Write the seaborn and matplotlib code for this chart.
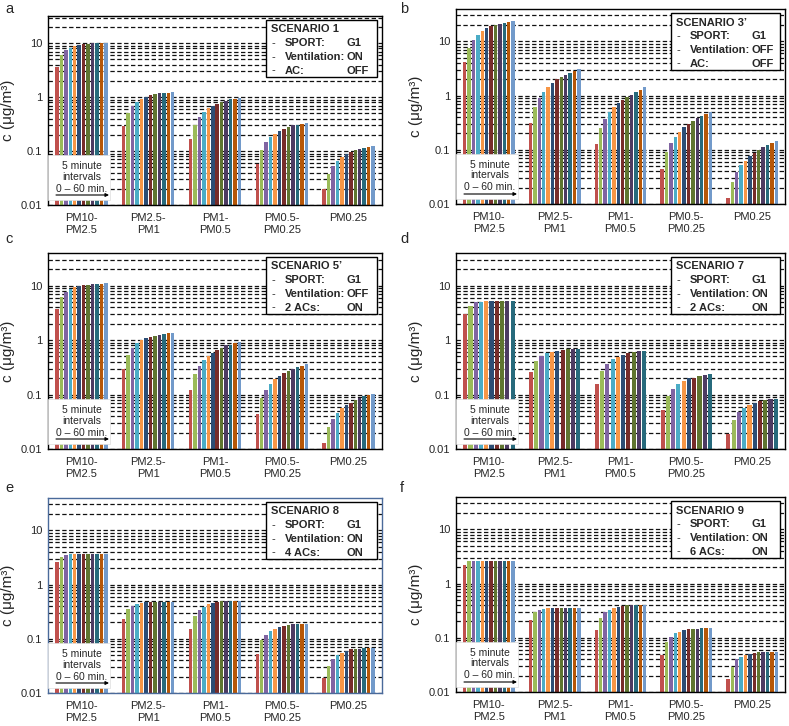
import numpy as np
import pandas as pd
import matplotlib
matplotlib.use("Agg")
import matplotlib.pyplot as plt
import seaborn as sns
from matplotlib.patches import Rectangle
from matplotlib.ticker import FixedLocator, NullFormatter, FixedFormatter, LogLocator

# ---------------- data ----------------
categories = ["PM10-\nPM2.5", "PM2.5-\nPM1", "PM1-\nPM0.5", "PM0.5-\nPM0.25", "PM0.25"]
intervals = ["0-5", "5-10", "10-15", "15-20", "20-25", "25-30",
             "30-35", "35-40", "40-45", "45-50", "50-55", "55-60"]
colors = ["#C0504D", "#9BBB59", "#8064A2", "#4BACC6", "#F79646", "#2C4D75",
          "#772C2A", "#5F7530", "#4D3B62", "#276A7C", "#B65708", "#729ACA"]

scen1 = [[3.6, 6.0, 7.4, 8.3, 9.0, 9.2, 9.8, 9.8, 9.9, 10.2, 10.0, 10.2],
         [0.29, 0.51, 0.70, 0.81, 0.94, 1.01, 1.09, 1.14, 1.17, 1.20, 1.20, 1.25],
         [0.164, 0.30, 0.43, 0.53, 0.62, 0.70, 0.75, 0.81, 0.86, 0.93, 0.93, 0.96],
         [0.058, 0.104, 0.147, 0.18, 0.21, 0.235, 0.26, 0.28, 0.30, 0.31, 0.32, 0.335],
         [0.020, 0.038, 0.053, 0.066, 0.079, 0.087, 0.096, 0.103, 0.107, 0.114, 0.117, 0.122]]
scen3 = [[4.2, 7.6, 10.6, 13.1, 15.5, 17.5, 18.8, 20.1, 21.3, 22.0, 22.6, 23.9],
         [0.31, 0.62, 0.90, 1.15, 1.43, 1.70, 1.99, 2.2, 2.43, 2.64, 2.84, 3.05],
         [0.126, 0.25, 0.37, 0.49, 0.61, 0.72, 0.84, 0.93, 1.04, 1.15, 1.28, 1.41],
         [0.045, 0.091, 0.131, 0.175, 0.217, 0.265, 0.305, 0.34, 0.39, 0.42, 0.46, 0.49],
         [0.013, 0.026, 0.039, 0.052, 0.063, 0.078, 0.088, 0.099, 0.112, 0.124, 0.136, 0.147]]
scen5 = [[3.7, 6.1, 7.7, 8.7, 9.4, 9.8, 10.1, 10.4, 10.6, 10.7, 10.6, 11.0],
         [0.29, 0.53, 0.70, 0.87, 1.0, 1.07, 1.15, 1.2, 1.25, 1.29, 1.33, 1.36],
         [0.12, 0.233, 0.337, 0.43, 0.51, 0.585, 0.655, 0.72, 0.80, 0.81, 0.89, 0.92],
         [0.0435, 0.087, 0.123, 0.155, 0.19, 0.22, 0.243, 0.27, 0.30, 0.32, 0.33, 0.356],
         [0.0129, 0.025, 0.036, 0.046, 0.057, 0.064, 0.071, 0.079, 0.087, 0.093, 0.10, 0.104]]
scen7 = [[3.0, 4.2, 4.9, 5.0, 5.1, 5.1, 5.1, 5.1, 5.1, 5.1],
         [0.254, 0.41, 0.51, 0.57, 0.61, 0.63, 0.65, 0.68, 0.68, 0.68],
         [0.153, 0.27, 0.36, 0.45, 0.49, 0.54, 0.58, 0.59, 0.62, 0.63],
         [0.053, 0.095, 0.125, 0.155, 0.176, 0.197, 0.205, 0.22, 0.227, 0.233],
         [0.019, 0.034, 0.047, 0.057, 0.064, 0.07, 0.075, 0.079, 0.081, 0.083]]
scen8 = [[2.56, 3.25, 3.5, 3.6, 3.6, 3.6, 3.6, 3.6, 3.6, 3.6, 3.6, 3.6],
         [0.235, 0.36, 0.41, 0.445, 0.465, 0.48, 0.48, 0.48, 0.48, 0.48, 0.48, 0.48],
         [0.149, 0.26, 0.335, 0.386, 0.43, 0.46, 0.48, 0.50, 0.50, 0.50, 0.50, 0.50],
         [0.053, 0.093, 0.118, 0.14, 0.153, 0.165, 0.172, 0.177, 0.184, 0.184, 0.187, 0.187],
         [0.0187, 0.032, 0.043, 0.05, 0.055, 0.06, 0.064, 0.065, 0.066, 0.068, 0.069, 0.069]]
scen9 = [[2.18, 2.63, 2.65, 2.65, 2.65, 2.65, 2.65, 2.65, 2.65, 2.65, 2.65, 2.65],
         [0.21, 0.30, 0.325, 0.345, 0.35, 0.36, 0.36, 0.36, 0.36, 0.36, 0.36, 0.36],
         [0.139, 0.23, 0.30, 0.325, 0.35, 0.375, 0.39, 0.40, 0.40, 0.40, 0.40, 0.40],
         [0.049, 0.083, 0.105, 0.122, 0.13, 0.14, 0.144, 0.146, 0.148, 0.15, 0.151, 0.152],
         [0.0177, 0.029, 0.040, 0.045, 0.049, 0.051, 0.053, 0.054, 0.055, 0.055, 0.055, 0.055]]

panels = [
    ("a", scen1, ["SCENARIO 1", ("SPORT:", "G1"), ("Ventilation:", "ON"), ("AC:", "OFF")]),
    ("b", scen3, ["SCENARIO 3\u2019", ("SPORT:", "G1"), ("Ventilation:", "OFF"), ("AC:", "OFF")]),
    ("c", scen5, ["SCENARIO 5\u2019", ("SPORT:", "G1"), ("Ventilation:", "OFF"), ("2 ACs:", "ON")]),
    ("d", scen7, ["SCENARIO 7", ("SPORT:", "G1"), ("Ventilation:", "ON"), ("2 ACs:", "ON")]),
    ("e", scen8, ["SCENARIO 8", ("SPORT:", "G1"), ("Ventilation:", "ON"), ("4 ACs:", "ON")]),
    ("f", scen9, ["SCENARIO 9", ("SPORT:", "G1"), ("Ventilation:", "ON"), ("6 ACs:", "ON")]),
]

# ---------------- layout (pixels) ----------------
W, H = 789, 726
axes_px = {  # left, right, top, bottom
    "a": (48, 382, 16, 205),
    "b": (456, 785, 9, 204),
    "c": (48, 382, 253, 449),
    "d": (456, 785, 253, 449),
    "e": (48, 382, 498, 693),
    "f": (456, 785, 497, 692),
}
label_px = {"a": (5, 9), "b": (400, 9), "c": (5, 239), "d": (400, 239),
            "e": (5, 488), "f": (400, 488)}
ytop = {"a": 32, "b": 39.5, "c": 39.5, "d": 39.5, "e": 39.5, "f": 39.5}

sns.set_style("white")
plt.rcParams["font.family"] = ["Liberation Sans", "DejaVu Sans"]

fig = plt.figure(figsize=(W / 100, H / 100), dpi=100)

for key, data, legend in panels:
    l, r, t, b = axes_px[key]
    ax = fig.add_axes([l / W, 1 - b / H, (r - l) / W, (b - t) / H])
    n = len(data[0])
    rows = []
    for ci, cat in enumerate(categories):
        for ti in range(n):
            rows.append({"cat": cat, "t": intervals[ti], "c": data[ci][ti]})
    df = pd.DataFrame(rows)
    ax.set_yscale("log")
    sns.barplot(data=df, x="cat", y="c", hue="t", order=categories,
                hue_order=intervals[:n], palette=colors[:n], saturation=1,
                errorbar=None, width=0.8, gap=0.22, legend=False, ax=ax,
                linewidth=0, zorder=2)
    ax.set_ylim(0.01, ytop[key])
    ax.set_xlim(-0.5, 4.5)
    ax.yaxis.set_major_locator(FixedLocator([0.01, 0.1, 1, 10]))
    ax.yaxis.set_major_formatter(FixedFormatter(["0.01", "0.1", "1", "10"]))
    ax.yaxis.set_minor_locator(LogLocator(base=10, subs=np.arange(2, 10)))
    ax.yaxis.set_minor_formatter(NullFormatter())
    ax.grid(True, which="both", axis="y", color="#111111",
            linestyle=(0, (3.5, 2)), linewidth=0.9)
    ax.grid(False, axis="x")
    ax.set_axisbelow(True)
    ax.tick_params(axis="both", which="both", length=0, labelsize=8)
    ax.tick_params(axis="x", pad=6)
    ax.tick_params(axis="y", pad=4)
    ax.set_xlabel("")
    ax.set_ylabel("c (\u03bcg/m\u00b3)", fontsize=11, labelpad=4)
    spine_col = "#4A6A9A" if key == "e" else "black"
    for s in ax.spines.values():
        s.set_visible(True)
        s.set_color(spine_col)
        s.set_linewidth(1.0)

    axw, axh = r - l, b - t
    fx = lambda px: px / axw
    fy = lambda px: 1 - px / axh  # px measured from axes top

    # scenario box
    bx0, bx1 = 0.652, 0.984
    btop_px, bh_px = 4, 57
    ax.add_patch(Rectangle((bx0, fy(btop_px + bh_px)), bx1 - bx0, bh_px / axh,
                           transform=ax.transAxes, facecolor="white",
                           edgecolor="black", linewidth=1.0, zorder=5))
    x0px = bx0 * axw
    fs = 8.0
    ax.text(fx(x0px + 5), fy(btop_px + 9.5), legend[0], transform=ax.transAxes,
            fontsize=fs, fontweight="bold", va="center", ha="left", zorder=6)
    for i, (lab, val) in enumerate(legend[1:]):
        yy = fy(btop_px + 23 + 13.8 * i)
        ax.text(fx(x0px + 6), yy, "-", transform=ax.transAxes, fontsize=fs,
                va="center", ha="left", zorder=6)
        ax.text(fx(x0px + 19), yy, lab, transform=ax.transAxes, fontsize=fs,
                fontweight="bold", va="center", ha="left", zorder=6)
        ax.text(fx(x0px + 81), yy, val, transform=ax.transAxes, fontsize=fs,
                fontweight="bold", va="center", ha="left", zorder=6)

    # "5 minute intervals" box
    ax.add_patch(Rectangle((0.0, 5 / axh), 62 / axw, 45 / axh,
                           transform=ax.transAxes, facecolor="white",
                           edgecolor="#DDDDDD", linewidth=0.5, zorder=5))
    cx = 34 / axw
    ax.text(cx, 39 / axh, "5 minute", transform=ax.transAxes, fontsize=7.5,
            ha="center", va="center", zorder=6)
    ax.text(cx, 28.5 / axh, "intervals", transform=ax.transAxes, fontsize=7.5,
            ha="center", va="center", zorder=6)
    ax.text(cx, 16.5 / axh, "0 \u2013 60 min.", transform=ax.transAxes,
            fontsize=7.5, ha="center", va="center", zorder=6)
    ax.annotate("", xy=(61 / axw, 10 / axh), xytext=(8 / axw, 10 / axh),
                xycoords="axes fraction", textcoords="axes fraction",
                arrowprops=dict(arrowstyle="-|>", color="black", lw=0.8,
                                mutation_scale=5, shrinkA=0, shrinkB=0),
                zorder=6)

    lx, ly = label_px[key]
    fig.text(lx / W, 1 - ly / H, key, fontsize=10.5, ha="left", va="center")

fig.savefig("out.png", dpi=100)
